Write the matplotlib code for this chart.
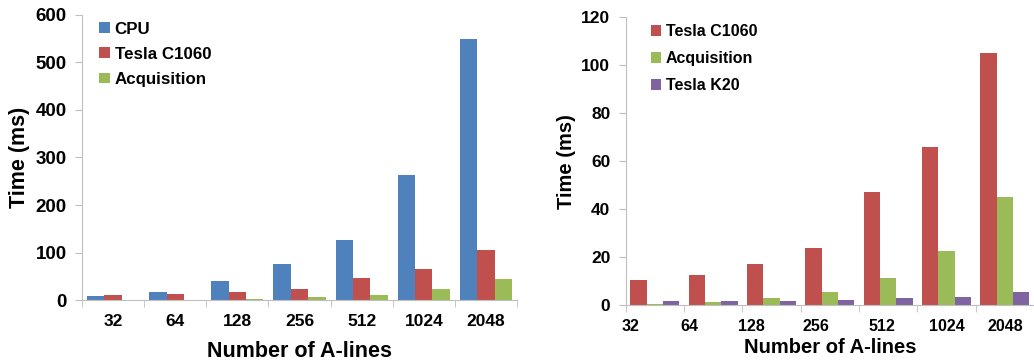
import numpy as np
import matplotlib.pyplot as plt

plt.rcParams['font.family'] = ['Liberation Sans', 'DejaVu Sans']
plt.rcParams['font.weight'] = 'bold'

alines = ["32", "64", "128", "256", "512", "1024", "2048"]
cpu = [9, 16, 40, 75, 127, 263, 550]
c1060 = [10.5, 12.5, 17, 24, 47, 66, 105]
acq = [0.5, 1.2, 2.8, 5.6, 11.2, 22.5, 45.2]
k20 = [1.6, 1.6, 1.8, 2.2, 3.0, 3.4, 5.4]

blue = "#4F81BD"
red = "#C0504D"
green = "#9BBB59"
purple = "#8064A2"
gray = "#BFBFBF"

fig = plt.figure(figsize=(10.34, 3.62), dpi=100)
ax1 = fig.add_axes([0.0793, 0.171, 0.4207, 0.788])
ax2 = fig.add_axes([0.605, 0.157, 0.395, 0.796])

x = np.arange(len(alines))
w = 0.28


def style(ax, ymax, ystep, tick_fs, label_fs, label_shift=None):
    ax.set_xlim(-0.5, len(alines) - 0.5)
    ax.set_ylim(0, ymax)
    yt = np.arange(0, ymax + 1, ystep)
    ax.set_yticks(yt, labels=[str(v) for v in yt], fontsize=tick_fs, fontweight='bold')
    pos = x if label_shift is None else x + np.array(label_shift)
    ax.set_xticks(pos, labels=alines, fontsize=tick_fs - 1, fontweight='bold')
    ax.set_xticks(np.arange(-0.5, len(alines)), minor=True)
    ax.tick_params(axis='x', which='major', length=0, pad=10)
    ax.tick_params(axis='x', which='minor', length=5, color=gray, direction='out')
    ax.tick_params(axis='y', length=5, color=gray, pad=6)
    for s in ['top', 'right']:
        ax.spines[s].set_visible(False)
    for s in ['left', 'bottom']:
        ax.spines[s].set_color(gray)
    ax.set_xlabel("Number of A-lines", fontsize=label_fs, fontweight='bold')
    ax.set_ylabel("Time (ms)", fontsize=label_fs, fontweight='bold')


# left chart
ax1.bar(x - w, cpu, w, color=blue, label="CPU")
ax1.bar(x, c1060, w, color=red, label="Tesla C1060")
ax1.bar(x + w, acq, w, color=green, label="Acquisition")
style(ax1, 600, 100, 13.5, 15.5)
ax1.xaxis.labelpad = 9
ax1.legend(loc='upper left', bbox_to_anchor=(0.005, 1.03), frameon=False,
           prop={'weight': 'bold', 'size': 12.2}, handlelength=0.6,
           handleheight=0.6, handletextpad=0.3, labelspacing=0.6)

# right chart
ax2.bar(x - w, c1060, w, color=red, label="Tesla C1060")
ax2.bar(x, acq, w, color=green, label="Acquisition")
ax2.bar(x + w, k20, w, color=purple, label="Tesla K20")
style(ax2, 120, 20, 12.5, 14.5, label_shift=[-0.41, -0.41, -0.35, -0.24, -0.1, 0, 0])
ax2.xaxis.labelpad = 3
ax2.legend(loc='upper left', bbox_to_anchor=(0.028, 1.025), frameon=False,
           prop={'weight': 'bold', 'size': 11.5}, handlelength=0.6,
           handleheight=0.6, handletextpad=0.3, labelspacing=0.75)

fig.savefig("out.png", dpi=100)
